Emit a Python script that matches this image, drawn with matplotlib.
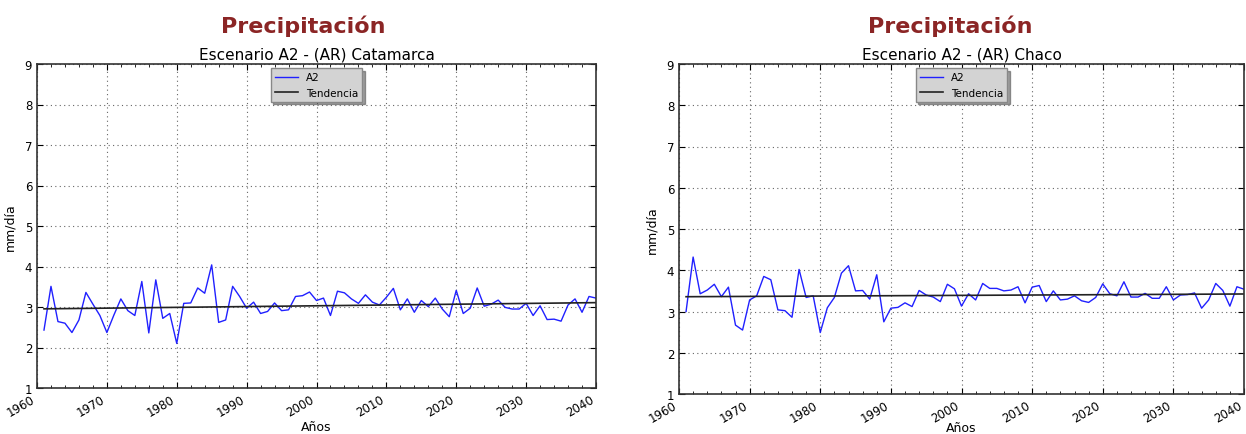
import numpy as np
import matplotlib
matplotlib.use("Agg")
import matplotlib.pyplot as plt

years = list(range(1961, 2041))

# Catamarca, A2 scenario (mm/dia)
catamarca = [2.43, 3.51, 2.64, 2.60, 2.37, 2.68, 3.36, 3.07, 2.79, 2.37,
             2.80, 3.20, 2.91, 2.79, 3.63, 2.36, 3.67, 2.72, 2.84, 2.10,
             3.09, 3.10, 3.47, 3.34, 4.04, 2.62, 2.68, 3.51, 3.26, 2.97,
             3.12, 2.84, 2.89, 3.10, 2.91, 2.93, 3.26, 3.28, 3.37, 3.16,
             3.22, 2.79, 3.39, 3.35, 3.20, 3.09, 3.30, 3.12, 3.05, 3.24,
             3.46, 2.93, 3.20, 2.87, 3.16, 3.01, 3.22, 2.95, 2.76, 3.41,
             2.84, 2.97, 3.47, 3.02, 3.07, 3.17, 2.99, 2.95, 2.95, 3.09,
             2.79, 3.03, 2.69, 2.70, 2.65, 3.05, 3.20, 2.87, 3.26, 3.22]

# Chaco, A2 scenario (mm/dia)
chaco = [3.00, 4.32, 3.43, 3.52, 3.66, 3.36, 3.59, 2.67, 2.55, 3.28,
         3.38, 3.85, 3.77, 3.04, 3.02, 2.86, 4.02, 3.34, 3.38, 2.49,
         3.09, 3.34, 3.93, 4.11, 3.50, 3.51, 3.30, 3.89, 2.75, 3.08,
         3.10, 3.21, 3.12, 3.51, 3.40, 3.35, 3.24, 3.66, 3.55, 3.13,
         3.43, 3.28, 3.68, 3.56, 3.56, 3.50, 3.52, 3.60, 3.21, 3.59,
         3.63, 3.24, 3.50, 3.28, 3.30, 3.38, 3.26, 3.22, 3.34, 3.67,
         3.43, 3.38, 3.72, 3.35, 3.35, 3.44, 3.32, 3.32, 3.60, 3.28,
         3.40, 3.41, 3.45, 3.08, 3.28, 3.68, 3.51, 3.13, 3.60, 3.54]

panels = [("Escenario A2 - (AR) Catamarca", catamarca),
          ("Escenario A2 - (AR) Chaco", chaco)]

W, H = 1246, 435
fig = plt.figure(figsize=(W / 100, H / 100), dpi=100)

# axes boxes in pixels: left, top, right, bottom
boxes = [(37, 65, 596, 389), (679, 65, 1244, 395)]
title_x = [303, 950]
xlabel_pad = [1, -3]


def draw_panel(box, subtitle, values, tx, xpad):
    l, t, r, b = box
    ax = fig.add_axes([l / W, 1 - b / H, (r - l) / W, (b - t) / H])
    x = np.array(years)
    y = np.array(values)
    ax.plot(x, y, color="#2020ff", lw=1.0, label="A2")
    coef = np.polyfit(x, y, 1)
    ax.plot(x, np.polyval(coef, x), color="#222222", lw=1.2, label="Tendencia")

    ax.set_xlim(1960, 2040)
    ax.set_ylim(1, 9)
    ax.set_xticks(range(1960, 2041, 10))
    ax.set_xticks(range(1960, 2041, 2), minor=True)
    ax.set_yticks(range(1, 10))
    ax.tick_params(which="both", direction="in", top=True, right=True,
                   labelsize=8.5)
    ax.tick_params(which="major", length=4)
    ax.tick_params(which="minor", length=2)
    for lab in ax.get_xticklabels():
        lab.set_rotation(30)
        lab.set_ha("right")
    ax.grid(True, which="major", color="#666666", linestyle=(0, (1, 3)), lw=0.8)
    for s in ax.spines.values():
        s.set_color("#333333")
        s.set_linewidth(1.2)

    ax.set_xlabel("Años", fontsize=9, labelpad=xpad)
    ax.set_ylabel("mm/día", fontsize=9, labelpad=6)
    ax.set_title(subtitle, fontsize=11, pad=4)

    leg = ax.legend(loc="upper center", fontsize=7.5, fancybox=False,
                    shadow=True, framealpha=1, borderaxespad=0.4,
                    handlelength=2.2)
    leg.get_frame().set_facecolor("#d3d3d3")
    leg.get_frame().set_edgecolor("#888888")

    fig.text(tx / W, 1 - 26 / H, "Precipitación", ha="center", va="center",
             fontsize=16, fontweight="bold", color="#8b2525")


for box, (sub, vals), tx, xp in zip(boxes, panels, title_x, xlabel_pad):
    draw_panel(box, sub, vals, tx, xp)

fig.savefig("out.png", dpi=100)
